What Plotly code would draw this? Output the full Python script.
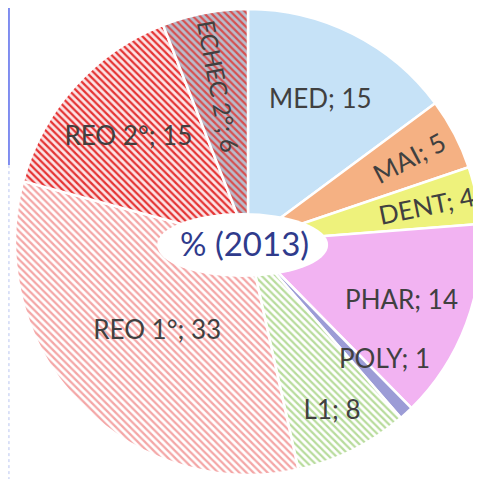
import plotly.graph_objects as go

FONT_FAMILY = "Lato"
COLOR_TEXT = "#404040"
COLOR_TITLE = "#2F3B8C"

# Données (%, 2013)
labels = ["MED", "MAI", "DENT", "PHAR", "POLY", "L1", "REO 1°", "REO 2°", "ECHEC 2°"]
values = [15, 5, 4, 14, 1, 8, 33, 15, 6]

fill_colors = ["#C6E2F7", "#F5B183", "#EEF27C", "#F2B3F2", "#9C9CD6",
               "#FFFFFF", "#FFFFFF", "#FBE4E6", "#B8BCCB"]
hatch_shapes = ["", "", "", "", "", "\\", "\\", "\\", "\\"]
hatch_colors = ["#C6E2F7", "#F5B183", "#EEF27C", "#F2B3F2", "#9C9CD6",
                "#B8DC9C", "#F4A6A6", "#E53333", "#D65050"]

# ECHEC : texte radial ; POLY : étiquette posée à côté de la part
radial_text = [f"{l}; {v}" if l == "ECHEC 2°" else "" for l, v in zip(labels, values)]
flat_text = ["" if l in ("ECHEC 2°", "POLY") else f"{l}; {v}" for l, v in zip(labels, values)]

fig = go.Figure()

fig.add_trace(go.Pie(
    labels=labels,
    values=values,
    sort=False,
    direction="clockwise",
    rotation=0,
    text=flat_text,
    textinfo="text",
    textposition="inside",
    insidetextorientation="auto",
    textfont=dict(family=FONT_FAMILY, size=26, color=COLOR_TEXT),
    marker=dict(
        colors=fill_colors,
        line=dict(color="white", width=2.5),
        pattern=dict(
            shape=hatch_shapes,
            fgcolor=hatch_colors,
            bgcolor=fill_colors,
            size=5,
            solidity=0.45,
            fillmode="replace",
        ),
    ),
    showlegend=False,
    hoverinfo="label+value",
))

fig.add_trace(go.Pie(
    labels=labels,
    values=values,
    sort=False,
    direction="clockwise",
    rotation=0,
    text=radial_text,
    textinfo="text",
    textposition="inside",
    insidetextorientation="radial",
    textfont=dict(family=FONT_FAMILY, size=24, color=COLOR_TEXT),
    marker=dict(colors=["rgba(0,0,0,0)"] * len(labels), line=dict(width=0)),
    showlegend=False,
    hoverinfo="skip",
))

poly_idx = labels.index("POLY")
fig.add_annotation(
    x=0.792, y=0.252, xref="paper", yref="paper",
    xanchor="center", yanchor="middle",
    text=f"{labels[poly_idx]}; {values[poly_idx]}", showarrow=False,
    font=dict(family=FONT_FAMILY, size=26, color=COLOR_TEXT),
)

# ellipse blanche au centre + titre
fig.add_shape(
    type="circle", xref="paper", yref="paper",
    x0=0.305, x1=0.672, y0=0.425, y1=0.562,
    fillcolor="white", line=dict(width=0), layer="above",
)
fig.add_annotation(
    x=0.492, y=0.497, xref="paper", yref="paper",
    xanchor="center", yanchor="middle",
    text="% (2013)", showarrow=False,
    font=dict(family=FONT_FAMILY, size=33, color=COLOR_TITLE),
)

# trait vertical à gauche (reste de la diapo)
fig.add_shape(type="line", xref="paper", yref="paper",
              x0=-0.013, x1=-0.013, y0=1.003, y1=0.665,
              line=dict(color="#7E8CF0", width=2))
fig.add_shape(type="line", xref="paper", yref="paper",
              x0=-0.013, x1=-0.013, y0=0.665, y1=-0.01,
              line=dict(color="#B8C4F0", width=1, dash="dot"))

fig.update_layout(
    width=473,
    height=471,
    margin=dict(l=7, r=0, t=1, b=4),
    paper_bgcolor="white",
    plot_bgcolor="white",
    font=dict(family=FONT_FAMILY, color=COLOR_TEXT),
)

fig.write_html("out.html")
